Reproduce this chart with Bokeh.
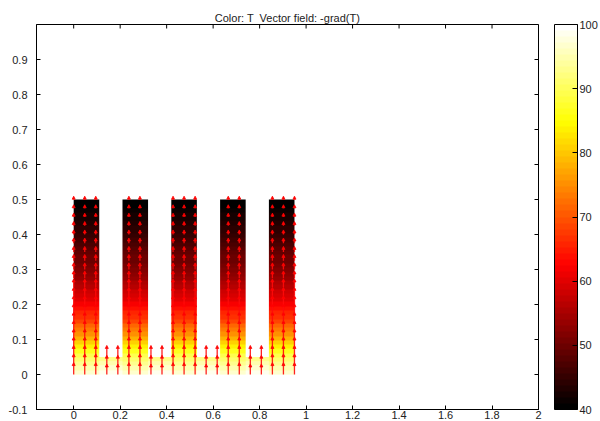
import numpy as np
from bokeh.plotting import figure
from bokeh.models import (LinearColorMapper, ColorBar, FixedTicker,
                          ColumnDataSource, Arrow, NormalHead)
from bokeh.embed import file_html
from bokeh.resources import INLINE

# ---------------- data ----------------
# fin geometry (x from, x to); fins reach y = 0.5, base slab 0 .. 0.05
fin_left = [0.0, 0.21, 0.42, 0.63, 0.84]
fin_right = [0.11, 0.32, 0.53, 0.74, 0.95]
fin_top = 0.5
base_left, base_right, base_top = 0.0, 0.95, 0.05

# temperature along a fin, from y = 0 (bottom) to y = 0.5 (tip), every 0.0125
T_profile = [97, 95, 93, 91, 89, 86.5, 84, 81, 78, 75.5, 73, 71, 69, 67, 65.5,
             63.5, 62, 60.5, 59, 58, 56.5, 55.5, 54, 53, 52, 51, 50, 49.5, 48.5,
             47.5, 47, 46, 45.5, 44.5, 44, 43, 42.5, 42, 41, 40.5, 40]
T_base = [99, 97, 95, 93]          # base slab, y = 0 .. 0.05

# arrow grid (-grad T): columns and rows
arrow_x = [0.0, 0.0475, 0.095, 0.1425, 0.19, 0.2375, 0.285, 0.3325, 0.38,
           0.4275, 0.475, 0.5225, 0.57, 0.6175, 0.665, 0.7125, 0.76, 0.8075,
           0.855, 0.9025, 0.95]
arrow_y = [0.0, 0.025, 0.05, 0.075, 0.1, 0.125, 0.15, 0.175, 0.2, 0.225, 0.25,
           0.275, 0.3, 0.325, 0.35, 0.375, 0.4, 0.425, 0.45, 0.475, 0.5]
arrow_len_fin = [0.034, 0.034, 0.033, 0.032, 0.030, 0.029, 0.028, 0.027, 0.025,
                 0.024, 0.023, 0.021, 0.019, 0.018, 0.016, 0.015, 0.013, 0.012,
                 0.011, 0.010, 0.0095]
arrow_len_gap = [0.030, 0.030, 0.033]

x_ticks = [0, 0.2, 0.4, 0.6, 0.8, 1.0, 1.2, 1.4, 1.6, 1.8, 2.0]
x_tick_labels = ["0", "0.2", "0.4", "0.6", "0.8", "1", "1.2", "1.4", "1.6", "1.8", "2"]
y_ticks = [-0.1, 0, 0.1, 0.2, 0.3, 0.4, 0.5, 0.6, 0.7, 0.8, 0.9]
y_tick_labels = ["-0.1", "0", "0.1", "0.2", "0.3", "0.4", "0.5", "0.6", "0.7", "0.8", "0.9"]
cbar_ticks = [40, 50, 60, 70, 80, 90, 100]
T_low, T_high = 40, 100
X_MIN, X_MAX = -0.16, 2.0
Y_MIN, Y_MAX = -0.1, 1.0

FONT = "Liberation Sans"


def hot_palette(n):
    cols = []
    for i in range(n):
        t = i / (n - 1)
        r = min(1.0, t / 0.375)
        g = min(1.0, max(0.0, (t - 0.375) / 0.375))
        b = min(1.0, max(0.0, (t - 0.75) / 0.25))
        cols.append("#%02x%02x%02x" % (int(r * 255), int(g * 255), int(b * 255)))
    return cols


mapper = LinearColorMapper(palette=hot_palette(64), low=T_low, high=T_high)

p = figure(width=600, height=421, x_range=(X_MIN, X_MAX), y_range=(Y_MIN, Y_MAX),
           output_backend="svg", toolbar_location=None,
           title="Color: T \u00a0Vector field: -grad(T)",
           min_border_left=36, min_border_right=59, min_border_top=24, min_border_bottom=0)
p.title.align = "center"
p.title.text_font = FONT
p.title.text_font_size = "11px"
p.title.text_font_style = "normal"
p.title.text_color = "#222222"
p.title.standoff = 2
p.title.offset = 0
p.grid.visible = False
p.outline_line_color = "black"
p.background_fill_color = "white"

# colour field
base_img = np.array(T_base, dtype=float).reshape(-1, 1)
p.image(image=[base_img], x=base_left, y=0, dw=base_right - base_left, dh=base_top,
        color_mapper=mapper)
fin_img = np.array(T_profile, dtype=float).reshape(-1, 1)
for xl, xr in zip(fin_left, fin_right):
    p.image(image=[fin_img], x=xl, y=0, dw=xr - xl, dh=fin_top, color_mapper=mapper)

# arrows
x0, y0, x1, y1 = [], [], [], []
for xc in arrow_x:
    in_fin = any(xl - 1e-9 <= xc <= xr + 1e-9 for xl, xr in zip(fin_left, fin_right))
    if in_fin:
        for yc, L in zip(arrow_y, arrow_len_fin):
            x0.append(xc); y0.append(yc); x1.append(xc); y1.append(yc + L)
    else:
        for yc, L in zip(arrow_y[:3], arrow_len_gap):
            x0.append(xc); y0.append(yc); x1.append(xc); y1.append(yc + L)
src = ColumnDataSource(dict(x0=x0, y0=y0, x1=x1, y1=y1))
p.add_layout(Arrow(end=NormalHead(size=3, fill_color="#ff0000", line_color="#ff0000",
                                  line_width=0.8),
                   x_start="x0", y_start="y0", x_end="x1", y_end="y1", source=src,
                   line_color="#ff0a0a", line_width=1.3, line_alpha=0.9))

# inward ticks on the top and right edges of the box
p.scatter(x=x_ticks, y=[Y_MAX] * len(x_ticks), marker="dash", angle=np.pi / 2,
          size=8, line_color="black", line_width=1)
p.scatter(x=[X_MAX] * len(y_ticks), y=y_ticks, marker="dash",
          size=8, line_color="black", line_width=1)


def style_axis(ax, ticks, labels, standoff):
    ax.ticker = FixedTicker(ticks=ticks)
    ax.major_tick_in = 4
    ax.major_tick_out = 0
    ax.minor_tick_line_color = None
    ax.axis_line_color = "black"
    ax.major_tick_line_color = "black"
    ax.major_label_text_font = FONT
    ax.major_label_text_font_size = "11px"
    ax.major_label_text_color = "#222222"
    ax.major_label_overrides = {t: l for t, l in zip(ticks, labels)}
    ax.major_label_standoff = standoff


style_axis(p.xaxis[0], x_ticks, x_tick_labels, 1)
style_axis(p.yaxis[0], y_ticks, y_tick_labels, 9)

cbar = ColorBar(color_mapper=mapper, ticker=FixedTicker(ticks=cbar_ticks),
                width=23, padding=0, margin=0, location=(16, 0), label_standoff=2,
                major_tick_in=5, major_tick_out=0, major_tick_line_color="black",
                bar_line_color="black", border_line_color=None,
                background_fill_alpha=0,
                major_label_text_font=FONT, major_label_text_font_size="11px",
                major_label_text_color="#222222")
p.add_layout(cbar, "right")

open("out.html", "w").write(file_html(p, INLINE))
